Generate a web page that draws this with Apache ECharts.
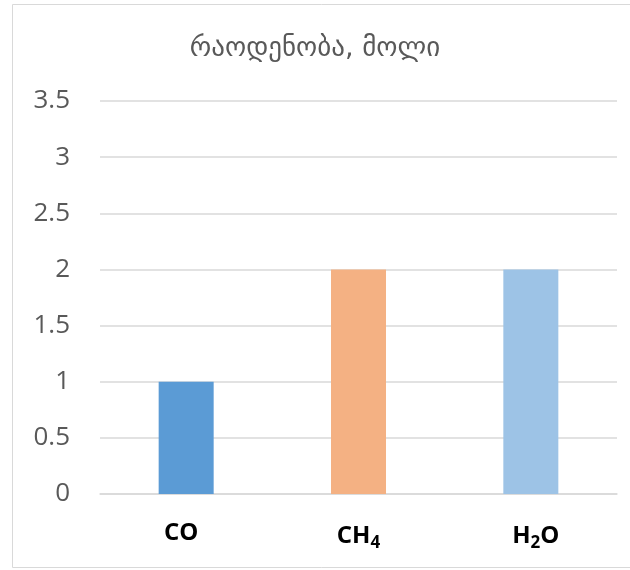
<!DOCTYPE html>
<html><head><meta charset="utf-8">
<script src="https://cdn.jsdelivr.net/npm/echarts@6/dist/echarts.min.js"></script>
<style>html,body{margin:0;padding:0;background:#fff}#c{width:630px;height:570px}</style>
</head><body><div id="c"></div>
<script>
const titleText = 'რაოდენობა, მოლი';
const categories = ['CO', 'CH4', 'H2O'];
const values = [1, 2, 2];
const colors = ['#5B9BD5', '#F4B183', '#9DC3E6'];
const yTicks = [0, 0.5, 1, 1.5, 2, 2.5, 3, 3.5];

const chart = echarts.init(document.getElementById('c'), null, {renderer: 'canvas'});
const labelMap = {
  'CO': '{l|CO}{gap|}',
  'CH4': '{b|CH}{s|4}',
  'H2O': '{gap|}{b|H}{s|2}{b|O}'
};
chart.setOption({
  animation: false,
  title: {
    text: titleText, left: 'center', top: 30, padding: [5, 5, 5, 17],
    textStyle: {fontFamily: 'DejaVu Sans', fontWeight: 'normal', fontSize: 27, color: '#595959'}
  },
  graphic: [{
    type: 'rect', shape: {x: 12.5, y: 4.5, width: 640, height: 563},
    style: {fill: 'none', stroke: '#d9d9d9', lineWidth: 1}, silent: true
  }],
  grid: {left: 100, right: 13, top: 101, bottom: 76},
  xAxis: {
    type: 'category', data: categories,
    axisTick: {show: false},
    axisLine: {lineStyle: {color: '#d9d9d9', width: 1.5}},
    axisLabel: {
      margin: 27,
      formatter: v => labelMap[v],
      rich: {
        b: {fontFamily: 'Open Sans', fontWeight: 'bold', fontSize: 24, color: '#000'},
        l: {fontFamily: 'Open Sans', fontWeight: 'bold', fontSize: 24, color: '#000'},
        gap: {width: 10, fontSize: 24},
        s: {fontFamily: 'Open Sans', fontWeight: 'bold', fontSize: 17, color: '#000', verticalAlign: 'bottom', padding: [14, 0, 0, 0]}
      }
    }
  },
  yAxis: {
    type: 'value', min: 0, max: yTicks[yTicks.length - 1], interval: 0.5,
    axisLine: {show: false}, axisTick: {show: false},
    splitLine: {lineStyle: {color: '#d9d9d9', width: 1.5}},
    axisLabel: {margin: 30, fontFamily: 'Open Sans', fontSize: 26, color: '#595959'}
  },
  series: [{
    type: 'bar', barWidth: 55,
    data: values.map((v, i) => ({value: v, itemStyle: {color: colors[i]}}))
  }]
});
</script></body></html>
